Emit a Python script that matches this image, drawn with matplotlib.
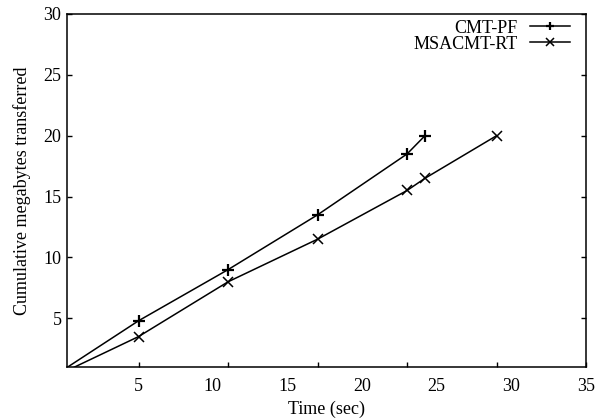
import matplotlib
matplotlib.use("Agg")
import matplotlib.pyplot as plt

# Data (plotted on the original axis scale)
cmt_x = [0, 5, 10, 15, 20, 21]
cmt_y = [0, 4.8, 9, 13.5, 18.5, 20]
msa_x = [0, 5, 10, 15, 20, 21, 25]
msa_y = [0, 3.5, 8, 11.5, 15.5, 16.5, 20]

series_labels = ["CMT-PF", "MSACMT-RT"]
x_tick_marks = [5, 10, 15, 20, 25, 30]
x_tick_labels = [5, 10, 15, 20, 25, 30, 35]
y_ticks = [5, 10, 15, 20, 25, 30]

plt.rcParams['font.family'] = ['Liberation Serif', 'DejaVu Serif']
FS = 13

fig = plt.figure(figsize=(6.14, 4.18), dpi=100)
ax = fig.add_axes([67/614, 1 - 367/418, (586-67)/614, (367-14)/418])

ax.plot(cmt_x, cmt_y, color='black', lw=1.1, marker='+', ms=8, mew=1.6, label=series_labels[0])
ax.plot(msa_x, msa_y, color='black', lw=1.1, marker='x', ms=7, mew=1.1, label=series_labels[1])

ax.set_xlim(1, 30)
ax.set_ylim(1, 30)
ax.set_xticks(x_tick_marks)
ax.set_xticklabels([])
ax.set_yticks(y_ticks)
ax.set_yticklabels([str(v) for v in y_ticks], fontsize=FS)
ax.tick_params(direction='in', length=3.5, width=1.0, top=True, right=True, pad=4)
for s in ax.spines.values():
    s.set_linewidth(1.1)

# secondary scale carrying the displayed x tick labels
ax2 = ax.twiny()
ax2.set_xlim(0.25, 35)
ax2.xaxis.set_ticks_position('bottom')
ax2.xaxis.set_label_position('bottom')
ax2.set_xticks(x_tick_labels)
ax2.set_xticklabels([str(v) for v in x_tick_labels], fontsize=FS)
ax2.tick_params(axis='x', length=0, pad=8)
for s in ax2.spines.values():
    s.set_visible(False)
ax2.set_xlabel("Time (sec)", fontsize=FS, labelpad=4)

ax.set_ylabel("Cumulative megabytes transferred", fontsize=FS, labelpad=9)

leg = ax.legend(loc='upper right', bbox_to_anchor=(0.969, 0.984), frameon=False,
                markerfirst=False, fontsize=FS, handlelength=2.2, handletextpad=0.7,
                labelspacing=-0.05, borderpad=0, borderaxespad=0, markerscale=0.75)

fig.savefig("out.png", dpi=100)
